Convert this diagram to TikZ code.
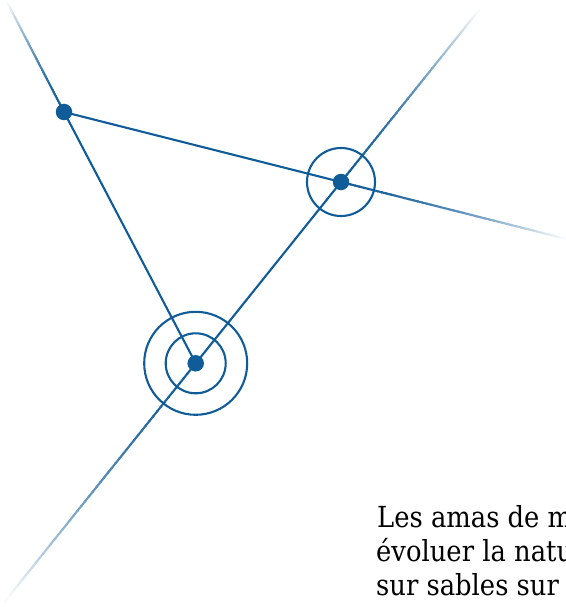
\documentclass[tikz,border=0pt]{standalone}
\usepackage{fontspec}
\newfontfamily\bodyfont[FakeStretch=0.89]{DejaVu Serif}
\usetikzlibrary{calc}
\definecolor{lineblue}{RGB}{16,92,152}
\tikzset{
  conn/.style={draw=lineblue, line width=2.1pt},
  ring/.style={circle, draw=lineblue, line width=2.1pt, inner sep=0pt},
  dot/.style={circle, fill=lineblue, inner sep=0pt, minimum size=16.5pt},
  bodytext/.style={anchor=base west, inner sep=0pt, font=\bodyfont\fontsize{29}{33}\selectfont, text=black}
}
\newcommand\fadeseg[2]{%
  \foreach \i in {0,...,49}{%
    \pgfmathsetmacro\ta{\i/50}%
    \pgfmathsetmacro\tb{(\i+1.3)/50}%
    \pgfmathtruncatemacro\pc{100*(1-(\i/50)^1.7)}%
    \draw[line width=2.1pt, draw=lineblue!\pc!white] ($(#1)!\ta!(#2)$) -- ($(#1)!\tb!(#2)$);
  }%
}
\begin{document}
\begin{tikzpicture}[x=1pt, y=-1pt]
  \useasboundingbox (0,0) rectangle (565,607);
  % positions
  \coordinate (c1) at (64,112);
  \coordinate (c2) at (341,182);
  \coordinate (c3) at (195.7,363.3);
  \coordinate (e1) at (7,2);
  \coordinate (e2) at (565,238.6);
  \coordinate (e3) at (479,10);
  \coordinate (e4) at (6,600);
  % fading extensions
  \fadeseg{c1}{e1}
  \fadeseg{c2}{e2}
  \fadeseg{c2}{e3}
  \fadeseg{c3}{e4}
  % solid connectors
  \draw[conn] (c1) -- (c2);
  \draw[conn] (c1) -- (c3);
  \draw[conn] (c3) -- (c2);
  % rings
  \node[ring, minimum size=68pt] (r2) at (c2) {};
  \node[ring, minimum size=60pt] (r3a) at (c3) {};
  \node[ring, minimum size=103pt] (r3b) at (c3) {};
  % dots
  \node[dot] (p1) at (c1) {};
  \node[dot] (p2) at (c2) {};
  \node[dot] (p3) at (c3) {};
  % text, cut by the right edge as in the reference
  \begin{scope}
    \clip (0,0) rectangle (565,607);
    \node[bodytext] (t1) at (377,527) {Les amas de m};
    \node[bodytext] (t2) at (376,561) {évoluer la natu};
    \node[bodytext] (t3) at (376,595) {sur sables sur};
  \end{scope}
\end{tikzpicture}
\end{document}
